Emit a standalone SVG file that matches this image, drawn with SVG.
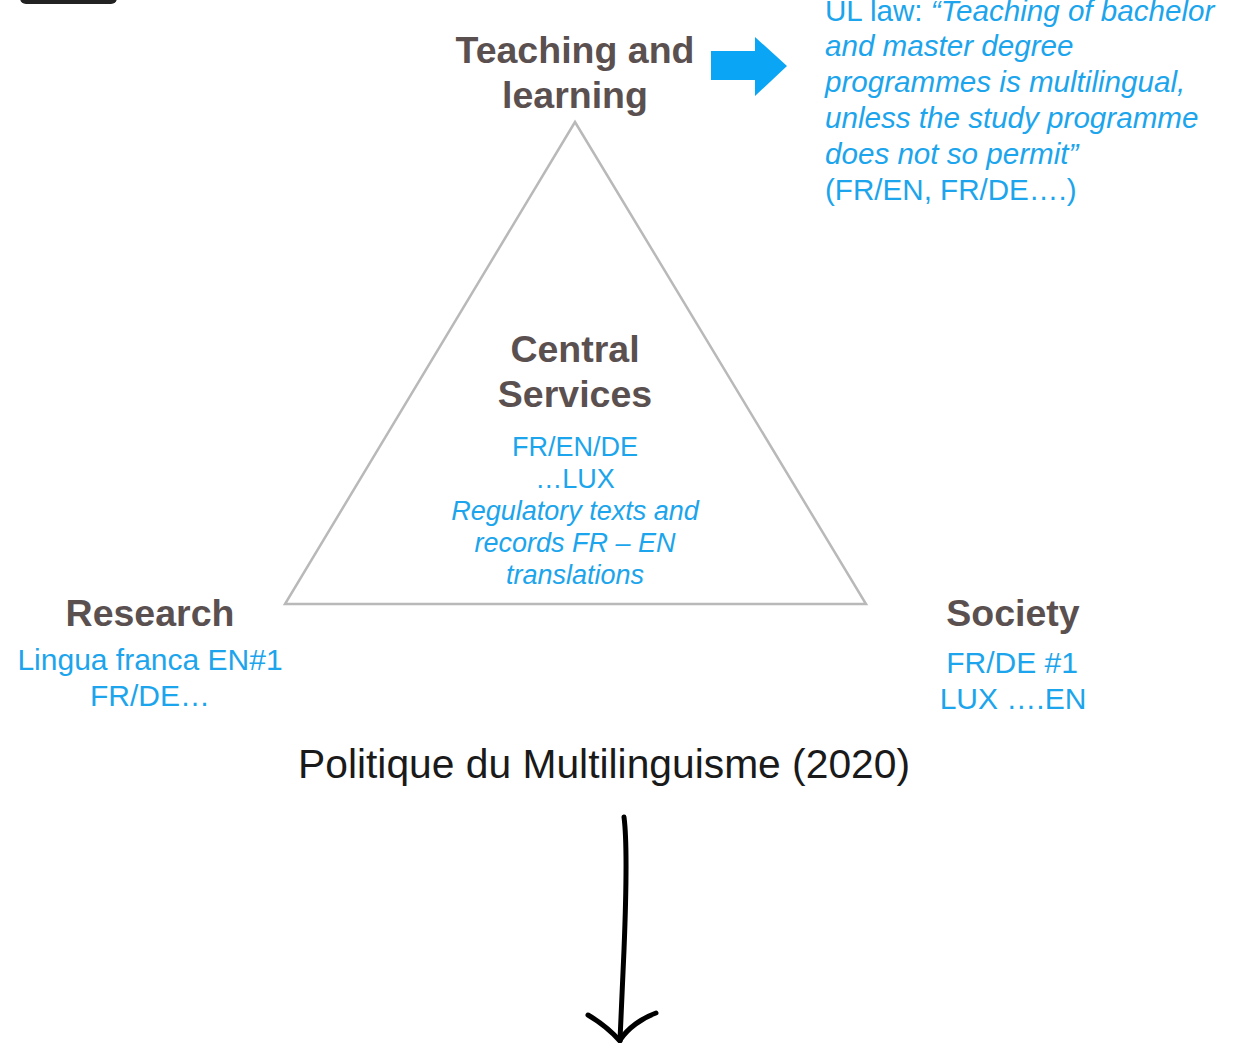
<svg xmlns="http://www.w3.org/2000/svg" width="1233" height="1043" viewBox="0 0 1233 1043">
<style>
.h{font-family:"Liberation Sans",Arial,sans-serif;font-weight:bold;font-size:37.5px;fill:#5b5050;text-anchor:middle}
.b{font-family:"Liberation Sans",Arial,sans-serif;font-size:27px;fill:#1ca5ec;text-anchor:middle}
.s{font-size:30px}
.i{font-style:italic}
.law{font-family:"Liberation Sans",Arial,sans-serif;font-size:29.6px;fill:#1ca5ec}
.cap{font-family:"Liberation Sans",Arial,sans-serif;font-size:40px;fill:#1a1a1a;text-anchor:middle}
</style>
<rect width="1233" height="1043" fill="#ffffff"/>
<rect x="20" y="-30" width="97" height="34" rx="6" fill="#222222"/>
<g id="triangle">
<polygon points="575,122 285,604 866,604" fill="none" stroke="#b9b9b9" stroke-width="2.5" stroke-linejoin="miter"/>
</g>
<g id="teaching">
<text class="h" x="575" y="63">Teaching and</text>
<text class="h" x="575" y="108">learning</text>
</g>
<g id="central">
<text class="h" x="575" y="362">Central</text>
<text class="h" x="575" y="407">Services</text>
<text class="b" x="575" y="456">FR/EN/DE</text>
<text class="b" x="575" y="488">…LUX</text>
<text class="b i" x="575" y="520">Regulatory texts and</text>
<text class="b i" x="575" y="552">records FR – EN</text>
<text class="b i" x="575" y="584">translations</text>
</g>
<g id="research">
<text class="h" x="150" y="626">Research</text>
<text class="b s" x="150" y="670">Lingua franca EN#1</text>
<text class="b s" x="150" y="706">FR/DE…</text>
</g>
<g id="society">
<text class="h" x="1013" y="626">Society</text>
<text class="b s" x="1012" y="673">FR/DE #1</text>
<text class="b s" x="1013" y="709">LUX ….EN</text>
</g>
<g id="ullaw">
<text class="law" x="825" y="21">UL law:  <tspan class="i">“Teaching of bachelor</tspan></text>
<text class="law i" x="825" y="56">and master degree</text>
<text class="law i" x="825" y="92">programmes is multilingual,</text>
<text class="law i" x="825" y="128">unless the study programme</text>
<text class="law i" x="825" y="164">does not so permit”</text>
<text class="law" x="825" y="200">(FR/EN, FR/DE….)</text>
</g>
<g id="caption">
<text class="cap" x="604" y="778" textLength="612" lengthAdjust="spacingAndGlyphs">Politique du Multilinguisme (2020)</text>
</g>
<g id="connectors">
<polygon points="711,51 755,51 755,37 787,66 755,96 755,80 711,80" fill="#0aa6f5"/>
<path d="M624,817 C627,840 626,900 624,950 C622,990 621,1015 620,1040" fill="none" stroke="#000" stroke-width="5" stroke-linecap="round"/>
<path d="M588,1015 C600,1022 612,1032 620,1041" fill="none" stroke="#000" stroke-width="5" stroke-linecap="round"/>
<path d="M656,1013 C642,1018 628,1028 620,1040" fill="none" stroke="#000" stroke-width="5" stroke-linecap="round"/>
</g>
</svg>
